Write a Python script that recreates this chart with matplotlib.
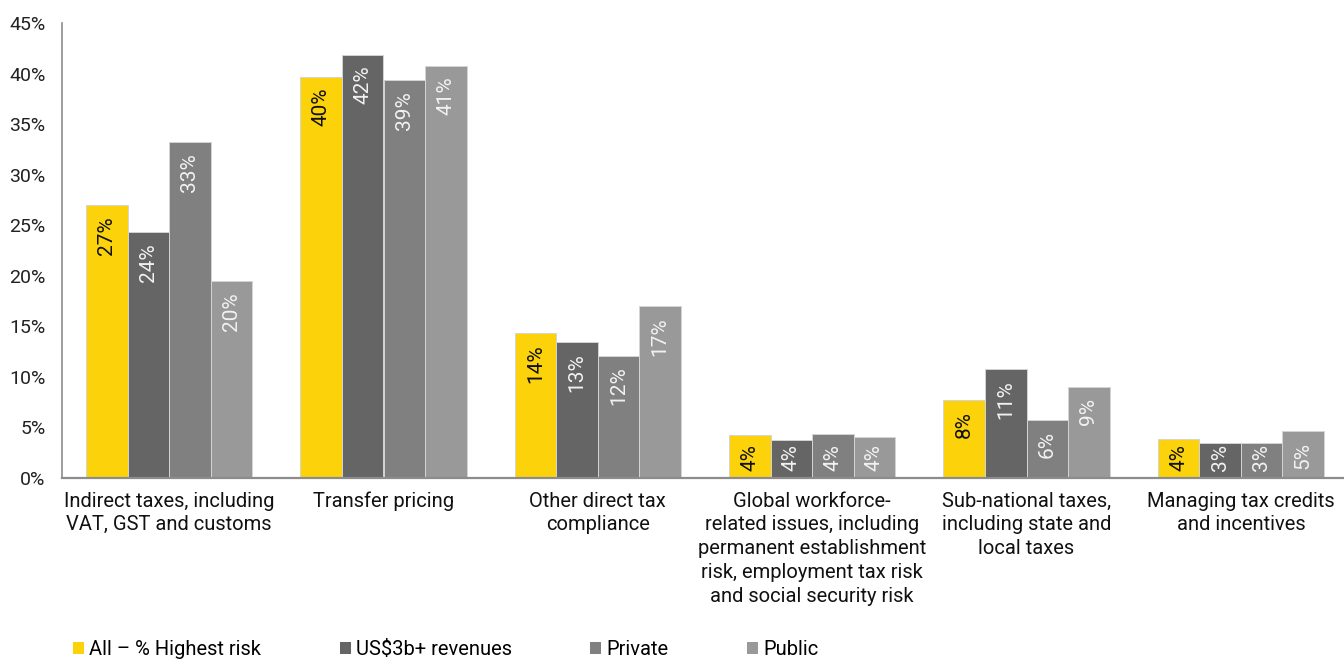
import matplotlib
matplotlib.use("Agg")
import matplotlib.pyplot as plt
import numpy as np

plt.rcParams['font.family'] = ['Roboto', 'DejaVu Sans']

categories = [
    "Indirect taxes, including\nVAT, GST and customs",
    "Transfer pricing",
    "Other direct tax\ncompliance",
    "Global workforce-\nrelated issues, including\npermanent establishment\nrisk, employment tax risk\nand social security risk",
    "Sub-national taxes,\nincluding state and\nlocal taxes",
    "Managing tax credits\nand incentives",
]

series_names = ["All \u2013 % Highest risk", "US$3b+ revenues", "Private", "Public"]
all_highest = [27.0, 39.7, 14.3, 4.2, 7.7, 3.8]
revenues_3b = [24.3, 41.9, 13.4, 3.7, 10.8, 3.4]
private = [33.2, 39.4, 12.1, 4.3, 5.7, 3.4]
public = [19.5, 40.8, 17.0, 4.0, 9.0, 4.6]

yticks = [0, 5, 10, 15, 20, 25, 30, 35, 40, 45]

colors = ["#FCD20B", "#646564", "#808080", "#999999"]
label_colors = ["#111111", "#F2F2F2", "#F2F2F2", "#F2F2F2"]

fig = plt.figure(figsize=(13.44, 6.6), dpi=100)
ax = fig.add_axes([62 / 1344, 1 - 477.7 / 660, 1286 / 1344, 454.4 / 660])

x = np.arange(len(categories))
width = 0.1937
series = [all_highest, revenues_3b, private, public]

ax.set_xlim(-0.5, len(categories) - 0.5)
ax.set_ylim(0, 45)

labels = []
for i, (vals, name) in enumerate(zip(series, series_names)):
    pos = x + (i - 1.5) * width
    bars = ax.bar(pos, vals, width=width, color=colors[i], edgecolor="#D4D4D4",
                  linewidth=0.7, label=name, zorder=2)
    for b, v in zip(bars, vals):
        cx = b.get_x() + b.get_width() / 2
        t = ax.annotate(f"{v:.0f}%", xy=(cx, v),
                        xytext=(0, -8), textcoords="offset points",
                        rotation=90, ha="center", va="top",
                        fontsize=15, color=label_colors[i])
        labels.append((t, cx))

# labels that would run below the axis are pinned just above the baseline
fig.canvas.draw()
renderer = fig.canvas.get_renderer()
base_px = ax.transData.transform((0, 0))[1]
for t, cx in labels:
    bb = t.get_window_extent(renderer)
    if bb.y0 < base_px + 6:
        t.xy = (cx, 0)
        t.set_va("bottom")
        t.set_position((0, 5))

ax.set_yticks(yticks)
ax.set_yticklabels([f"{t}%" for t in yticks], fontsize=14, color="#222222")
ax.set_xticks(x)
ax.set_xticklabels(categories, fontsize=14.5, color="#111111", linespacing=1.32)
ax.tick_params(axis="y", length=0, pad=12)
ax.tick_params(axis="x", length=0, pad=10)

for side in ["top", "right"]:
    ax.spines[side].set_visible(False)
ax.spines["left"].set_color("#8C8C8C")
ax.spines["bottom"].set_color("#8C8C8C")
ax.spines["left"].set_linewidth(1.2)
ax.spines["bottom"].set_linewidth(1.6)

leg = fig.legend(loc="lower left", bbox_to_anchor=(72 / 1344, 0.0), ncol=4,
                 frameon=False, fontsize=14.5, handlelength=0.55, handleheight=0.55,
                 handletextpad=0.25, columnspacing=3.9, borderpad=0.05, borderaxespad=0)
for h in leg.legend_handles:
    h.set_edgecolor("none")

fig.savefig("out.png", dpi=100)
